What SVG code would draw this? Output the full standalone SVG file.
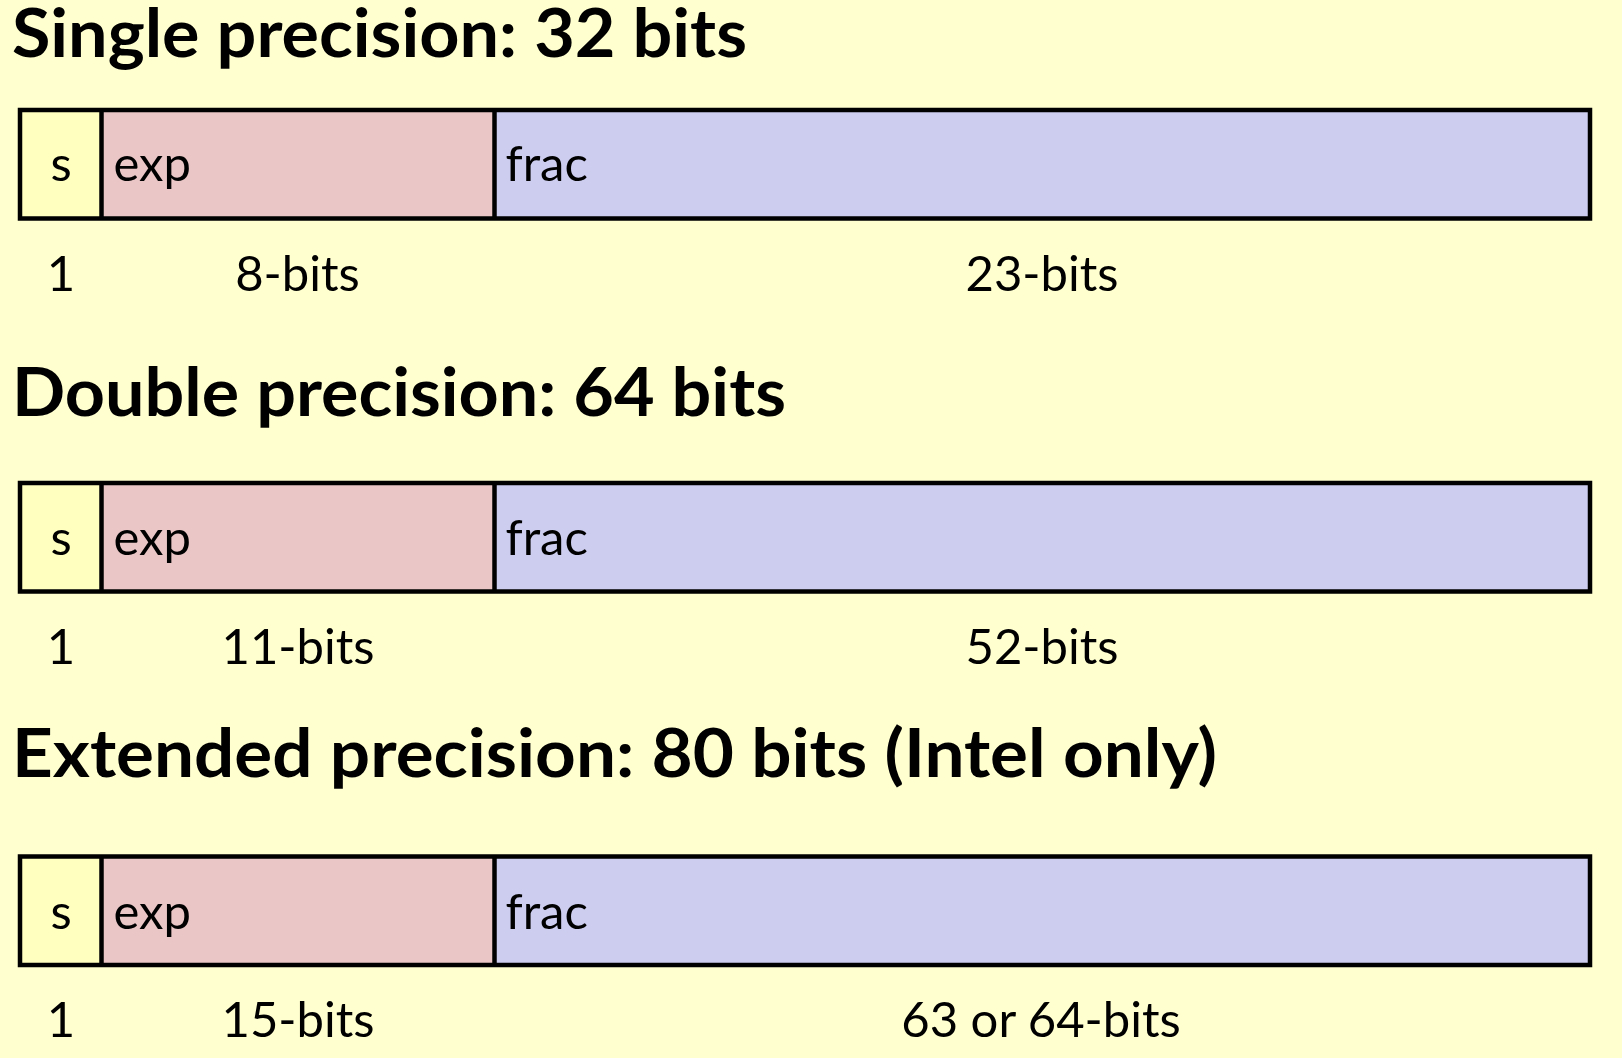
<svg xmlns="http://www.w3.org/2000/svg" width="1622" height="1058" viewBox="0 0 1622 1058">
<style>
.title{font-family:Lato,"Open Sans","Liberation Sans",sans-serif;font-weight:bold;font-size:66px;fill:#000}
.lbl{font-family:Lato,"Open Sans","Liberation Sans",sans-serif;font-size:49px;fill:#000}
.s{fill:#FFFFC0}
.exp{fill:#EAC6C6}
.frac{fill:#CDCDF0}
.edge{fill:none;stroke:#000;stroke-width:4.5}
.div{stroke:#000;stroke-width:4.5}
</style>
<rect width="1622" height="1058" fill="#FFFFD0"/>
<g id="single">
<text class="title" x="12" y="57" textLength="735" lengthAdjust="spacingAndGlyphs">Single precision: 32 bits</text>
<g id="single-box">
<rect class="s" x="20" y="110" width="81.5" height="108.5"/>
<rect class="exp" x="101.5" y="110" width="393" height="108.5"/>
<rect class="frac" x="494.5" y="110" width="1095.5" height="108.5"/>
<rect class="edge" x="20" y="110" width="1570" height="108.5"/>
<line class="div" x1="101.5" y1="110" x2="101.5" y2="218.5"/>
<line class="div" x1="494.5" y1="110" x2="494.5" y2="218.5"/>
<text class="lbl" x="61" y="181" text-anchor="middle">s</text>
<text class="lbl" x="113.5" y="181">exp</text>
<text class="lbl" x="505.5" y="181">frac</text>
</g>
<text class="lbl" x="61" y="291" text-anchor="middle">1</text>
<text class="lbl" x="297.5" y="291" text-anchor="middle">8-bits</text>
<text class="lbl" x="1042" y="291" text-anchor="middle">23-bits</text>
</g>
<g id="double">
<text class="title" x="12" y="416" textLength="774" lengthAdjust="spacingAndGlyphs">Double precision: 64 bits</text>
<g id="double-box">
<rect class="s" x="20" y="483" width="81.5" height="108.5"/>
<rect class="exp" x="101.5" y="483" width="393" height="108.5"/>
<rect class="frac" x="494.5" y="483" width="1095.5" height="108.5"/>
<rect class="edge" x="20" y="483" width="1570" height="108.5"/>
<line class="div" x1="101.5" y1="483" x2="101.5" y2="591.5"/>
<line class="div" x1="494.5" y1="483" x2="494.5" y2="591.5"/>
<text class="lbl" x="61" y="555" text-anchor="middle">s</text>
<text class="lbl" x="113.5" y="555">exp</text>
<text class="lbl" x="505.5" y="555">frac</text>
</g>
<text class="lbl" x="61" y="664" text-anchor="middle">1</text>
<text class="lbl" x="298" y="664" text-anchor="middle">11-bits</text>
<text class="lbl" x="1042" y="664" text-anchor="middle">52-bits</text>
</g>
<g id="extended">
<text class="title" x="12" y="777" textLength="1205" lengthAdjust="spacingAndGlyphs">Extended precision: 80 bits (Intel only)</text>
<g id="extended-box">
<rect class="s" x="20" y="856.5" width="81.5" height="108.5"/>
<rect class="exp" x="101.5" y="856.5" width="393" height="108.5"/>
<rect class="frac" x="494.5" y="856.5" width="1095.5" height="108.5"/>
<rect class="edge" x="20" y="856.5" width="1570" height="108.5"/>
<line class="div" x1="101.5" y1="856.5" x2="101.5" y2="965"/>
<line class="div" x1="494.5" y1="856.5" x2="494.5" y2="965"/>
<text class="lbl" x="61" y="929" text-anchor="middle">s</text>
<text class="lbl" x="113.5" y="929">exp</text>
<text class="lbl" x="505.5" y="929">frac</text>
</g>
<text class="lbl" x="61" y="1037" text-anchor="middle">1</text>
<text class="lbl" x="298" y="1037" text-anchor="middle">15-bits</text>
<text class="lbl" x="1041" y="1037" text-anchor="middle">63 or 64-bits</text>
</g>
</svg>
